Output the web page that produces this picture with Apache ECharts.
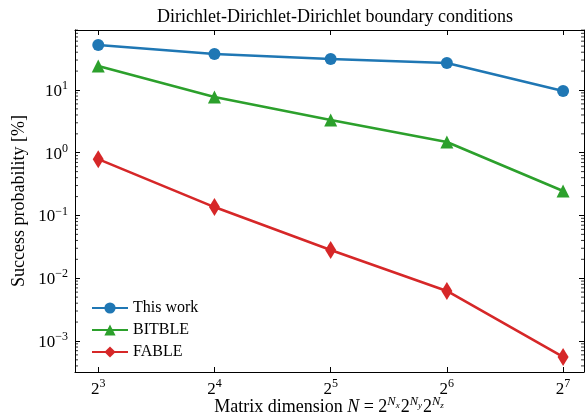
<!DOCTYPE html>
<html>
<head>
<meta charset="utf-8">
<script src="https://cdn.jsdelivr.net/npm/echarts@6/dist/echarts.min.js"></script>
<style>
  html, body { margin: 0; padding: 0; background: #fff; }
  #chart { width: 585px; height: 419px; }
</style>
</head>
<body>
<div id="chart"></div>
<script>
// x positions are the exponents of N = 2^k
const exponents = [3, 4, 5, 6, 7];
// success probability [%]
const thisWork = [52.1, 37.5, 31.2, 26.9, 9.64];
const bitble = [24.1, 7.73, 3.33, 1.48, 0.245];
const fable = [0.79, 0.136, 0.0282, 0.00627, 0.000556];
// log axis decades and minor tick multipliers
const decades = [-4, -3, -2, -1, 0, 1];
const minorMult = [2, 3, 4, 5, 6, 7, 8, 9];

const yMin = 3.2e-4, yMax = 90.4;
const xMin = 2.8, xMax = 7.18;
const FONT = 'Liberation Serif';

// minor tick positions (matplotlib style 2..9 x 10^k)
const minorTicks = [];
decades.forEach(d => minorMult.forEach(m => {
  const v = m * Math.pow(10, d);
  if (v > yMin && v < yMax) minorTicks.push([5, v]);
}));

function pair(ys) { return exponents.map((e, i) => [e, ys[i]]); }

const chart = echarts.init(document.getElementById('chart'), null, { renderer: 'canvas' });

const supRich = {
  b: { fontFamily: FONT, fontSize: 17, color: '#000', verticalAlign: 'bottom', lineHeight: 20 },
  s: { fontFamily: FONT, fontSize: 12, color: '#000', verticalAlign: 'bottom', lineHeight: 20, padding: [0, 0, 8, 0] }
};

const option = {
  animation: false,
  backgroundColor: '#fff',
  title: {
    text: 'Dirichlet-Dirichlet-Dirichlet boundary conditions',
    left: 330, top: 3, textAlign: 'center',
    textStyle: { fontFamily: FONT, fontSize: 18, fontWeight: 'normal', color: '#000' }
  },
  grid: { left: 75, right: 1, top: 30, bottom: 47, outerBoundsMode: 'none', containLabel: false },
  legend: {
    data: ['This work', 'BITBLE', 'FABLE'],
    orient: 'vertical', left: 86, top: 295,
    itemWidth: 36, itemHeight: 14, itemGap: 6,
    textStyle: { fontFamily: FONT, fontSize: 16, color: '#000' }
  },
  xAxis: [{
    type: 'value', min: xMin, max: xMax,
    name: '{t|Matrix dimension }{i|N}{t| = 2}{si|N}{ss|x}{t|2}{si|N}{ss|y}{t|2}{si|N}{ss|z}',
    nameLocation: 'middle', nameGap: 22, nameMoveOverlap: false,
    nameTextStyle: {
      rich: {
        t: { fontFamily: FONT, fontSize: 18, color: '#000', verticalAlign: 'bottom', lineHeight: 22 },
        i: { fontFamily: FONT, fontSize: 18, fontStyle: 'italic', color: '#000', verticalAlign: 'bottom', lineHeight: 22 },
        si: { fontFamily: FONT, fontSize: 12.5, fontStyle: 'italic', color: '#000', verticalAlign: 'bottom', lineHeight: 22, padding: [0, 0, 8, 0] },
        ss: { fontFamily: FONT, fontSize: 9, fontStyle: 'italic', color: '#000', verticalAlign: 'bottom', lineHeight: 22, padding: [0, 1, 6, 0] }
      }
    },
    axisLine: { lineStyle: { color: '#000', width: 1 } },
    axisTick: { inside: true, length: 5, lineStyle: { color: '#000' } },
    splitLine: { show: false },
    axisLabel: {
      margin: 6,
      formatter: v => Number.isInteger(v) ? '{b|2}{s|' + v + '}' : '',
      rich: supRich
    }
  }, {
    type: 'value', min: xMin, max: xMax, position: 'top',
    axisLine: { lineStyle: { color: '#000', width: 1 } },
    axisTick: { inside: true, length: 5, lineStyle: { color: '#000' } },
    axisLabel: { show: false }, splitLine: { show: false }
  }],
  yAxis: [{
    type: 'log', min: yMin, max: yMax,
    name: 'Success probability [%]',
    nameLocation: 'middle', nameGap: 47, nameMoveOverlap: false,
    nameTextStyle: { fontFamily: FONT, fontSize: 18, color: '#000' },
    axisLine: { lineStyle: { color: '#000', width: 1 } },
    axisTick: { inside: true, length: 5, lineStyle: { color: '#000' } },
    splitLine: { show: false },
    axisLabel: {
      margin: 7,
      formatter: v => {
        const l = Math.log10(v), e = Math.round(l);
        if (Math.abs(l - e) > 1e-6) return '';
        return '{b|10}{s|' + (e < 0 ? '\u2212' + (-e) : e) + '}';
      },
      rich: supRich
    }
  }, {
    type: 'log', min: yMin, max: yMax, position: 'right',
    axisLine: { lineStyle: { color: '#000', width: 1 } },
    axisTick: { inside: true, length: 5, lineStyle: { color: '#000' } },
    axisLabel: { show: false }, splitLine: { show: false }
  }],
  series: [{
    name: 'This work', type: 'line', data: pair(thisWork),
    symbol: 'circle', symbolSize: 12,
    lineStyle: { width: 2.6 }, itemStyle: { color: '#1f77b4' }
  }, {
    name: 'BITBLE', type: 'line', data: pair(bitble),
    symbol: 'triangle', symbolSize: 13,
    lineStyle: { width: 2.6 }, itemStyle: { color: '#2ca02c' }
  }, {
    name: 'FABLE', type: 'line', data: pair(fable),
    symbol: 'diamond', symbolSize: [11, 18],
    lineStyle: { width: 2.6 }, itemStyle: { color: '#d62728' }
  }, {
    // minor ticks on left and right spines
    type: 'custom', silent: true, data: minorTicks,
    renderItem: (params, api) => {
      const y = api.coord([api.value(0), api.value(1)])[1];
      const cs = params.coordSys;
      const st = { stroke: '#000', lineWidth: 0.8 };
      return {
        type: 'group', children: [
          { type: 'line', shape: { x1: cs.x, y1: y, x2: cs.x + 3, y2: y }, style: st },
          { type: 'line', shape: { x1: cs.x + cs.width, y1: y, x2: cs.x + cs.width - 3, y2: y }, style: st }
        ]
      };
    }
  }]
};

chart.setOption(option);
</script>
</body>
</html>
